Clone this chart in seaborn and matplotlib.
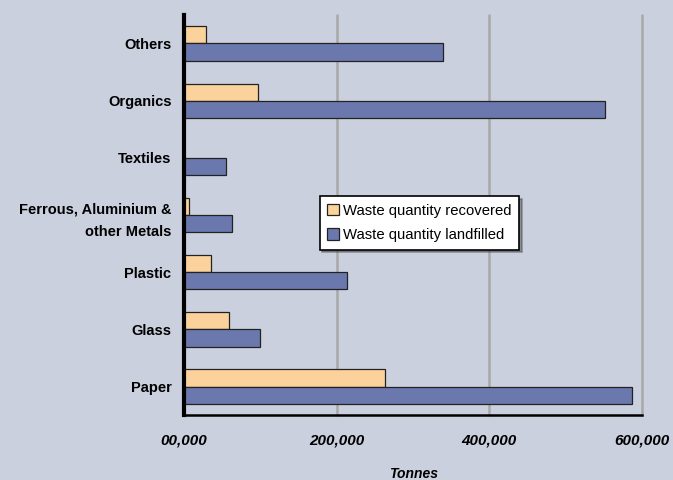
import matplotlib
matplotlib.use('Agg')
import matplotlib.pyplot as plt
import matplotlib.transforms as mtransforms
import pandas as pd
import seaborn as sns

categories = ['Others', 'Organics', 'Textiles', 'Ferrous, Aluminium &\nother Metals',
              'Plastic', 'Glass', 'Paper']
recovered = [29000, 97000, 0, 6600, 35500, 59000, 263000]
landfilled = [339000, 551000, 55000, 63000, 213000, 100000, 587000]
series_names = ['Waste quantity recovered', 'Waste quantity landfilled']
x_ticks = [0, 200000, 400000, 600000]
x_tick_labels = ['00,000', '200,000', '400,000', '600,000']

df = pd.DataFrame({
    'category': categories * 2,
    'tonnes': recovered + landfilled,
    'series': [series_names[0]] * len(categories) + [series_names[1]] * len(categories),
})

bg = '#CBD0DE'
sns.set_theme(style='white')
plt.rcParams['font.family'] = ['Liberation Sans', 'DejaVu Sans']
plt.rcParams['text.color'] = 'black'
plt.rcParams['xtick.color'] = 'black'
plt.rcParams['ytick.color'] = 'black'
plt.rcParams['axes.labelcolor'] = 'black'

fig = plt.figure(figsize=(6.73, 4.8), dpi=100, facecolor=bg)
ax = fig.add_axes([0.2734, 0.135, 0.954 - 0.2734, 0.969 - 0.135])
ax.set_facecolor(bg)

sns.barplot(data=df, y='category', x='tonnes', hue='series', order=categories,
            hue_order=series_names, palette=['#FCD29C', '#6B78AD'],
            orient='h', width=0.6, edgecolor='#222222', linewidth=0.9,
            saturation=1, ax=ax)

ax.set_xlim(0, 600000)
ax.set_ylim(6.5, -0.5)
ax.set_xticks(x_ticks)
ax.set_xticklabels(x_tick_labels, fontsize=11, fontweight='bold', fontstyle='italic')
offset = mtransforms.ScaledTranslation(-6 / 100, 0, fig.dpi_scale_trans)
for lbl in ax.get_xticklabels():
    lbl.set_transform(lbl.get_transform() + offset)
ax.tick_params(axis='x', length=0, pad=13)
ax.tick_params(axis='y', length=0, pad=9, labelsize=10.5)
for lbl in ax.get_yticklabels():
    lbl.set_fontweight('bold')
    lbl.set_linespacing(1.75)

ax.xaxis.grid(True, color='#A8A8A8', linewidth=1.8)
for gl in ax.xaxis.get_gridlines():
    gl.set_clip_on(False)
ax.set_axisbelow(True)
ax.set_ylabel('')
ax.set_xlabel('Tonnes', fontsize=10, fontweight='bold', fontstyle='italic', labelpad=14)

for side in ['top', 'right']:
    ax.spines[side].set_visible(False)
ax.spines['left'].set_color('black')
ax.spines['left'].set_linewidth(3)
ax.spines['bottom'].set_color('black')
ax.spines['bottom'].set_linewidth(1.8)

leg = ax.legend(loc='upper left', bbox_to_anchor=(0.28, 0.565), frameon=True,
                fancybox=False, shadow=True, fontsize=10.7, handlelength=0.8,
                handleheight=0.8, handletextpad=0.3, borderpad=0.5, labelspacing=0.7)
leg.get_frame().set_edgecolor('black')
leg.get_frame().set_linewidth(1.2)
leg.get_frame().set_facecolor('white')
leg.get_frame().set_alpha(1)

fig.savefig('out.png', dpi=100, facecolor=bg)
